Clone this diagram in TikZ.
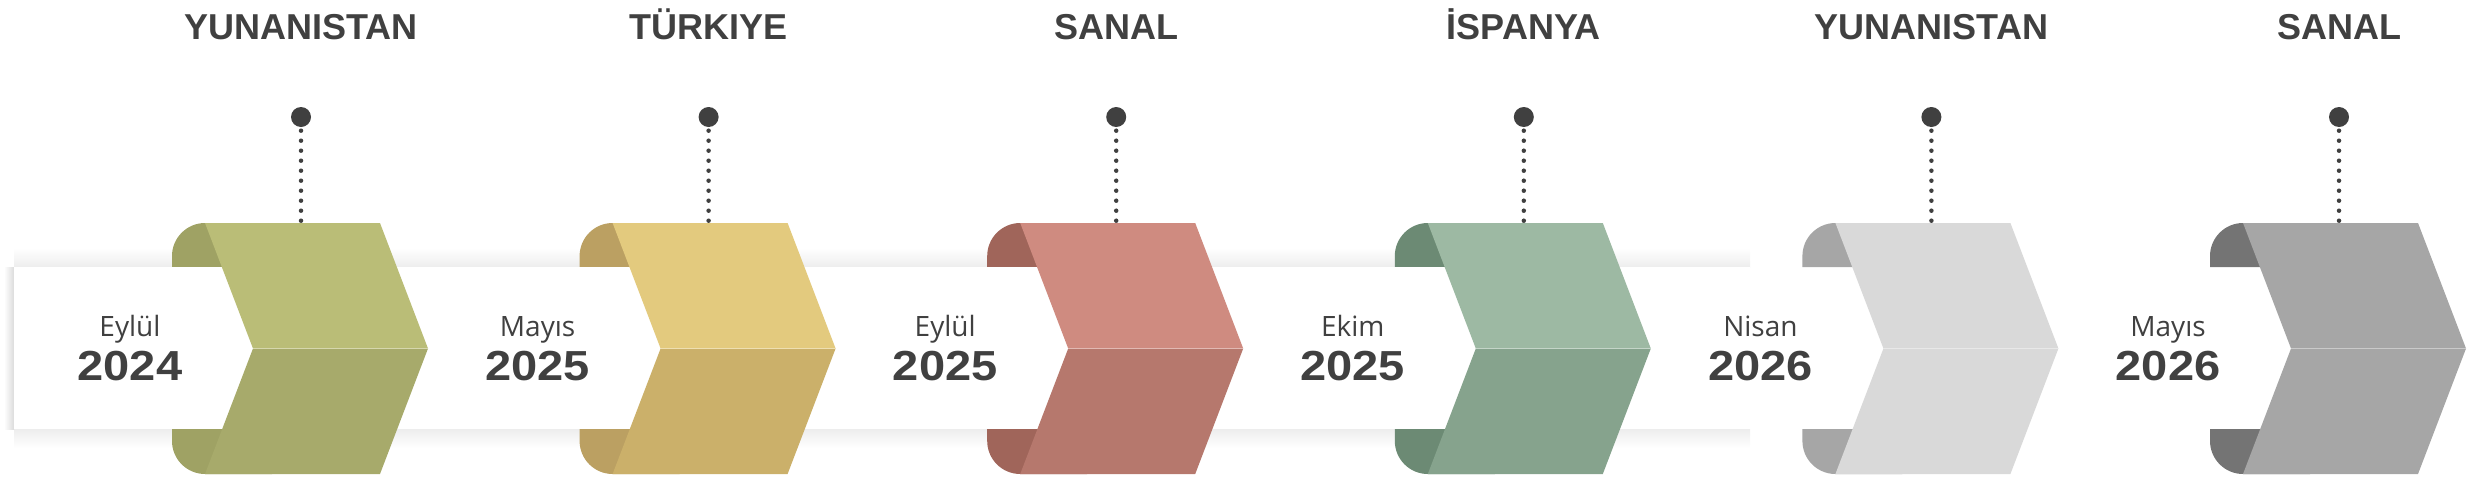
\documentclass[tikz,border=0pt]{standalone}
\usepackage{fontspec}
\usepackage{graphicx}
\setmainfont{Liberation Sans}
\newfontfamily\monthfont{Open Sans}
\definecolor{txt}{HTML}{404040}
\definecolor{oliveT}{HTML}{BABD77}
\definecolor{oliveB}{HTML}{A7AA6B}
\definecolor{oliveK}{HTML}{9FA264}
\definecolor{yellowT}{HTML}{E3CA7E}
\definecolor{yellowB}{HTML}{CBB06A}
\definecolor{yellowK}{HTML}{BBA062}
\definecolor{redT}{HTML}{CF8B80}
\definecolor{redB}{HTML}{B6786D}
\definecolor{redK}{HTML}{A0655A}
\definecolor{greenT}{HTML}{9DB9A3}
\definecolor{greenB}{HTML}{86A38D}
\definecolor{greenK}{HTML}{6C8A74}
\definecolor{lgT}{HTML}{D9D9D9}
\definecolor{lgB}{HTML}{D9D9D9}
\definecolor{lgK}{HTML}{A6A6A6}
\definecolor{gT}{HTML}{A6A6A6}
\definecolor{gB}{HTML}{A6A6A6}
\definecolor{gK}{HTML}{747474}
\begin{document}
\begin{tikzpicture}[x=1pt,y=-1pt,
  titletext/.style={font=\fontsize{36}{40}\selectfont\bfseries, text=txt, anchor=base, inner sep=0pt},
  monthtext/.style={font=\monthfont\fontsize{28}{32}\selectfont, text=txt, anchor=base, inner sep=0pt},
  yeartext/.style={font=\fontsize{42}{46}\selectfont\bfseries, text=txt, anchor=base, inner sep=0pt},
  pindot/.style={circle, fill=txt, minimum size=20pt, inner sep=0pt},
  dotline/.style={draw=txt, line width=4.5pt, line cap=round, dash pattern=on 0pt off 10pt, shorten <=3.5pt},
]
\useasboundingbox (0,0) rectangle (2488,493);
% band shadow
\shade[top color=white, bottom color=black!7] (14,248) rectangle (1750,267);
\shade[top color=black!7, bottom color=white] (14,429) rectangle (1750,448);
\shade[left color=white, right color=black!14] (4,267) rectangle (14,429);
\foreach \i/\ck in {0/oliveK,1/yellowK,2/redK,3/greenK,4/lgK,5/gK}{
  \pgfmathsetmacro{\xo}{172+407.6*\i}
  % tabs
  \fill[\ck] (\xo,267) -- (\xo,256) .. controls (\xo,237.8) and (\xo+14.8,223) .. (\xo+33,223) -- (\xo+100,223) -- (\xo+100,267) -- cycle;
  \fill[\ck] (\xo,429) -- (\xo,441) .. controls (\xo,459.2) and (\xo+14.8,474) .. (\xo+33,474) -- (\xo+100,474) -- (\xo+100,429) -- cycle;
}
\fill[white] (14,267) rectangle (1750,429);
\foreach \i/\ti/\mo/\yr/\ct/\cb in {
  0/YUNANISTAN/Eylül/2024/oliveT/oliveB,
  1/TÜRKIYE/Mayıs/2025/yellowT/yellowB,
  2/SANAL/Eylül/2025/redT/redB,
  3/İSPANYA/Ekim/2025/greenT/greenB,
  4/YUNANISTAN/Nisan/2026/lgT/lgB,
  5/SANAL/Mayıs/2026/gT/gB}{
  \pgfmathsetmacro{\xo}{172+407.6*\i}
  % chevron
  \fill[\ct] (\xo+33,223) -- (\xo+208,223) -- (\xo+256,348.5) -- (\xo+81,348.5) -- cycle;
  \fill[\cb] (\xo+81,348.5) -- (\xo+256,348.5) -- (\xo+208,474) -- (\xo+33,474) -- cycle;
  \draw[\ct!60!white, line width=1pt] (\xo+81,348.5) -- (\xo+256,348.5);
  \coordinate (t\i) at (\xo+129,222);
  % pin
  \node[pindot] (p\i) at (\xo+129,117) {};
  \draw[dotline] (p\i.south) -- (t\i);
  % texts
  \node[titletext] (h\i) at (\xo+129,39.5) {\ti};
  \node[monthtext] (m\i) at (\xo-42,336.5) {\mo};
  \node[yeartext] (y\i) at (\xo-42,380) {\scalebox{1.12}[1]{\yr}};
}
\end{tikzpicture}
\end{document}
